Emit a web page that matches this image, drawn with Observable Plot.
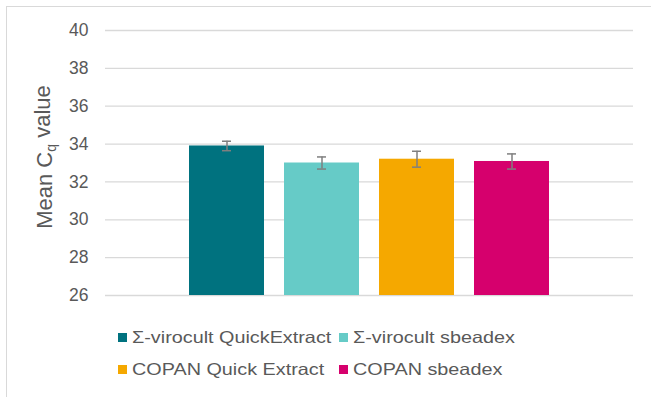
<!DOCTYPE html>
<html>
<head>
<meta charset="utf-8">
<script src="https://cdn.jsdelivr.net/npm/d3@7"></script>
<script src="https://cdn.jsdelivr.net/npm/@observablehq/plot@0.6"></script>
<style>
  html, body { margin: 0; padding: 0; background: #fff; }
  #chart { position: relative; width: 651px; height: 397px; overflow: hidden;
           font-family: "Liberation Sans", Arial, sans-serif; color: #595959; }
  #frame { position: absolute; left: 6px; top: 6px; width: 700px; height: 500px;
           border: 1px solid #d9d9d9; box-sizing: border-box; }
  #plot { position: absolute; left: 0; top: 0; }
  .item { position: absolute; display: flex; align-items: center; height: 20px; }
  .sw { width: 9px; height: 9px; margin-right: 5px; flex: none; }
  .lab { font-size: 16.5px; display: inline-block; white-space: nowrap;
         transform: scaleX(1.2); transform-origin: left center; }
</style>
</head>
<body>
<div id="chart">
  <div id="frame"></div>
  <div id="plot"></div>
  <div id="legend"></div>
</div>
<script>
// Extraction methods compared, with mean Cq and its error
const series = ["Σ-virocult QuickExtract", "Σ-virocult sbeadex", "COPAN Quick Extract", "COPAN sbeadex"];
const meanCq = [33.9, 33.0, 33.2, 33.08];
const errCq = [0.25, 0.32, 0.42, 0.4];
const seriesColors = ["#00727f", "#66cbc7", "#f5a800", "#d6006d"];
const yTicks = [26, 28, 30, 32, 34, 36, 38, 40];

const rows = series.map((s, i) => ({series: s, mean: meanCq[i], err: errCq[i]}));
const errStyle = {stroke: "#7f7f7f", strokeWidth: 1.5};

const svg = Plot.plot({
  width: 651,
  height: 310,
  marginLeft: 105,
  marginRight: 18,
  marginTop: 30,
  marginBottom: 15,
  style: {fontFamily: "Liberation Sans, Arial, sans-serif", fontSize: "17.5px", color: "#595959", background: "transparent", overflow: "visible"},
  x: {domain: series, range: [177.7, 560.5], paddingInner: 0.21, paddingOuter: 0.105, axis: null},
  y: {domain: [26, 40], ticks: yTicks, tickSize: 0, tickPadding: 17, label: null},
  color: {domain: series, range: seriesColors},
  marks: [
    Plot.ruleY(yTicks, {stroke: "#d9d9d9", strokeWidth: 1.3}),
    Plot.barY(rows, {x: "series", y1: 26, y2: "mean", fill: "series"}),
    Plot.ruleX(rows, {x: "series", y1: d => d.mean - d.err, y2: d => d.mean + d.err, ...errStyle}),
    Plot.tickY(rows, {x: "series", y: d => d.mean + d.err, insetLeft: 33, insetRight: 33, ...errStyle}),
    Plot.tickY(rows, {x: "series", y: d => d.mean - d.err, insetLeft: 33, insetRight: 33, ...errStyle})
  ]
});

// Axis title with a subscript q
const title = d3.select(svg).append("text")
  .attr("transform", "translate(52,157) rotate(-90)")
  .attr("text-anchor", "middle")
  .attr("fill", "#595959")
  .attr("font-size", 22);
title.append("tspan").text("Mean C");
title.append("tspan").attr("font-size", 14).attr("dy", "0.3em").text("q");
title.append("tspan").attr("dy", "-0.3em").text(" value");

document.getElementById("plot").appendChild(svg);

// Two-row legend
const legendPos = [
  {left: 117.5, top: 327.5},
  {left: 339, top: 327.5},
  {left: 117.5, top: 359.5},
  {left: 339, top: 359.5}
];
const legend = document.getElementById("legend");
series.forEach((s, i) => {
  const item = document.createElement("div");
  item.className = "item";
  item.style.left = legendPos[i].left + "px";
  item.style.top = legendPos[i].top + "px";
  const sw = document.createElement("span");
  sw.className = "sw";
  sw.style.background = seriesColors[i];
  const lab = document.createElement("span");
  lab.className = "lab";
  lab.textContent = s;
  item.appendChild(sw);
  item.appendChild(lab);
  legend.appendChild(item);
});
</script>
</body>
</html>
